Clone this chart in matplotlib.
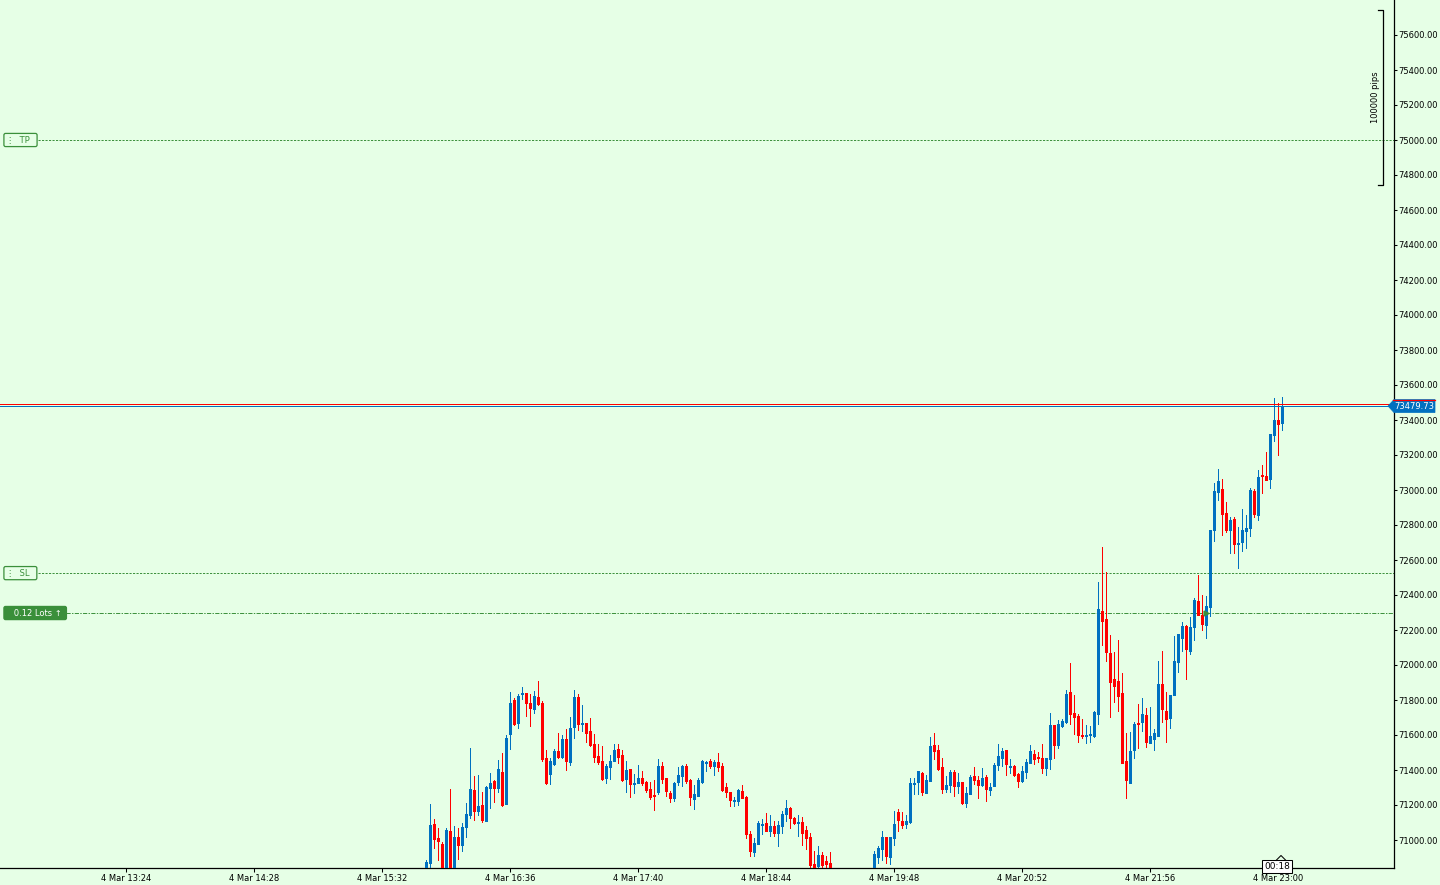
import matplotlib
matplotlib.use("Agg")
import matplotlib.pyplot as plt
import matplotlib.transforms as mtransforms
from matplotlib.patches import Polygon
import numpy as np

# 2-minute bars, 4 Mar, first bar opens at 15:54
first_bar = "15:54"
bar_minutes = 2

opens = [
    70820, 70870, 71091, 71011, 70980, 70790, 71051, 70810, 71017, 70971,
    71074, 71142, 71285, 71165, 71199, 71108, 71297, 71337, 71297, 71388,
    71205, 71605, 71800, 71668, 71834, 71840, 71782, 71748, 71817, 71782,
    71468, 71377, 71434, 71508, 71474, 71577, 71445, 71645, 71817, 71662,
    71668, 71622, 71548, 71480, 71451, 71354, 71417, 71451, 71520, 71486,
    71349, 71406, 71322, 71326, 71354, 71331, 71291, 71257, 71274, 71423,
    71354, 71269, 71240, 71331, 71366, 71423, 71343, 71234, 71251, 71331,
    71442, 71451, 71423, 71446, 71423, 71303, 71274, 71221, 71223, 71280,
    71246, 71034, 70931, 70977, 71086, 71097, 71051, 71080, 71040, 71080,
    71149, 71183, 71126, 71097, 71103, 71057, 71017, 70863, 70851, 70914,
    70880, 70868, 70820, 70760, 70780, 70710, 70660, 70700, 70740, 70670,
    70730, 70780, 70820, 70902, 70948, 71017, 70902, 71011, 71160, 71108,
    71091, 71102, 71321, 71331, 71383, 71268, 71337, 71543, 71514, 71417,
    71291, 71314, 71388, 71308, 71331, 71211, 71263, 71365, 71342, 71314,
    71360, 71285, 71308, 71428, 71468, 71514, 71419, 71423, 71377, 71337,
    71388, 71440, 71491, 71474, 71468, 71411, 71463, 71657, 71543, 71651,
    71674, 71845, 71725, 71708, 71600, 71596, 71602, 71594, 71722, 72308,
    72263, 72068, 71920, 71908, 71840, 71451, 71325, 71514, 71668, 71674,
    71714, 71554, 71577, 71594, 71891, 71737, 71697, 71828, 72017, 72154,
    72223, 72080, 72217, 72365, 72285, 72228, 72331, 72771, 72988, 73005,
    72868, 72771, 72834, 72693, 72702, 72765, 72782, 72994, 72857, 73085,
    73080, 73062, 73314, 73400, 73383,
]
highs = [
    70885, 71205, 71120, 71068, 70986, 71068, 71291, 71079, 71068, 71097,
    71211, 71525, 71365, 71371, 71274, 71308, 71382, 71343, 71457, 71497,
    71600, 71845, 71811, 71834, 71874, 71840, 71834, 71851, 71908, 71794,
    71514, 71468, 71520, 71611, 71600, 71634, 71702, 71857, 71834, 71771,
    71668, 71697, 71605, 71548, 71537, 71434, 71485, 71548, 71548, 71514,
    71451, 71406, 71377, 71429, 71394, 71337, 71331, 71343, 71463, 71446,
    71354, 71280, 71331, 71417, 71429, 71434, 71349, 71314, 71354, 71457,
    71451, 71463, 71457, 71497, 71440, 71326, 71274, 71246, 71291, 71314,
    71251, 71051, 71011, 71108, 71120, 71154, 71143, 71108, 71108, 71166,
    71229, 71188, 71131, 71143, 71131, 71080, 71040, 70937, 70966, 70931,
    70908, 70931, 70830, 70800, 70810, 70740, 70720, 70760, 70780, 70750,
    70800, 70830, 70937, 70965, 71051, 71017, 71017, 71165, 71177, 71160,
    71142, 71354, 71354, 71394, 71388, 71371, 71588, 71611, 71543, 71468,
    71365, 71400, 71400, 71383, 71331, 71303, 71371, 71417, 71365, 71411,
    71371, 71325, 71440, 71548, 71525, 71514, 71463, 71428, 71383, 71423,
    71463, 71543, 71514, 71503, 71548, 71468, 71725, 71657, 71685, 71691,
    71857, 72010, 71828, 71720, 71691, 71657, 71651, 71737, 72474, 72674,
    72531, 72171, 72074, 72143, 71954, 71611, 71617, 71674, 71777, 71811,
    71754, 71760, 71634, 72023, 72080, 71845, 71828, 72165, 72177, 72245,
    72228, 72274, 72383, 72514, 72400, 72394, 72771, 73040, 73120, 73062,
    72931, 72845, 72845, 72788, 72891, 72857, 73011, 73005, 73114, 73142,
    73217, 73320, 73525, 73497, 73531,
]
lows = [
    70800, 70830, 70956, 70885, 70780, 70770, 70780, 70790, 70891, 70937,
    71017, 71125, 71114, 71142, 71102, 71108, 71182, 71217, 71274, 71194,
    71205, 71520, 71657, 71640, 71805, 71708, 71651, 71725, 71771, 71451,
    71320, 71320, 71428, 71468, 71468, 71400, 71428, 71582, 71628, 71622,
    71560, 71537, 71445, 71434, 71343, 71325, 71348, 71451, 71440, 71337,
    71274, 71246, 71269, 71326, 71314, 71274, 71234, 71171, 71263, 71326,
    71251, 71217, 71223, 71314, 71309, 71326, 71200, 71177, 71251, 71326,
    71394, 71411, 71371, 71394, 71280, 71246, 71194, 71194, 71200, 71240,
    71011, 70908, 70908, 70977, 71034, 71051, 71023, 71023, 70966, 71040,
    71108, 71069, 71091, 71023, 70971, 70949, 70840, 70835, 70835, 70830,
    70835, 70800, 70740, 70700, 70690, 70640, 70630, 70680, 70650, 70660,
    70710, 70760, 70790, 70868, 70885, 70868, 70862, 70971, 71051, 71068,
    71068, 71097, 71263, 71263, 71257, 71268, 71337, 71463, 71400, 71268,
    71274, 71274, 71251, 71268, 71205, 71188, 71263, 71320, 71240, 71308,
    71223, 71257, 71308, 71400, 71423, 71371, 71383, 71365, 71303, 71331,
    71354, 71440, 71434, 71445, 71383, 71371, 71405, 71468, 71525, 71645,
    71668, 71663, 71605, 71560, 71583, 71554, 71560, 71588, 71662, 72114,
    72023, 71702, 71788, 71737, 71440, 71240, 71325, 71468, 71525, 71623,
    71531, 71554, 71514, 71594, 71674, 71560, 71640, 71828, 71960, 72080,
    71920, 72063, 72143, 72285, 72200, 72154, 72280, 72708, 72942, 72742,
    72760, 72640, 72640, 72554, 72651, 72668, 72737, 72845, 72828, 72982,
    73057, 73011, 73280, 73200, 73342,
]
closes = [
    70874, 71085, 71007, 70994, 70800, 71057, 70800, 71017, 70971, 71074,
    71148, 71291, 71165, 71194, 71114, 71302, 71325, 71297, 71405, 71199,
    71582, 71782, 71662, 71822, 71840, 71782, 71754, 71822, 71777, 71462,
    71325, 71451, 71508, 71474, 71577, 71451, 71640, 71817, 71662, 71668,
    71609, 71542, 71474, 71445, 71348, 71422, 71451, 71514, 71474, 71343,
    71400, 71322, 71326, 71354, 71326, 71286, 71246, 71253, 71423, 71349,
    71280, 71240, 71326, 71371, 71423, 71337, 71246, 71263, 71343, 71451,
    71448, 71423, 71446, 71417, 71286, 71274, 71229, 71225, 71286, 71240,
    71034, 70937, 70983, 71097, 71091, 71051, 71080, 71040, 71086, 71149,
    71183, 71126, 71097, 71103, 71040, 71011, 70857, 70848, 70914, 70857,
    70863, 70820, 70760, 70780, 70710, 70660, 70700, 70740, 70670, 70730,
    70780, 70810, 70920, 70954, 71017, 70908, 71017, 71091, 71114, 71085,
    71108, 71325, 71325, 71394, 71274, 71342, 71537, 71508, 71405, 71291,
    71314, 71388, 71308, 71331, 71211, 71268, 71360, 71342, 71314, 71354,
    71291, 71303, 71428, 71480, 71508, 71434, 71423, 71371, 71337, 71394,
    71445, 71508, 71463, 71470, 71411, 71468, 71657, 71543, 71663, 71680,
    71834, 71720, 71703, 71600, 71596, 71600, 71606, 71731, 72320, 72251,
    72074, 71903, 71880, 71823, 71440, 71342, 71508, 71662, 71664, 71720,
    71560, 71594, 71611, 71891, 71748, 71691, 71828, 72023, 72177, 72223,
    72091, 72217, 72371, 72285, 72234, 72337, 72771, 72994, 73051, 72862,
    72771, 72828, 72691, 72697, 72771, 72782, 73000, 72862, 73074, 73080,
    73057, 73320, 73400, 73377, 73479.73,
]

price_ticks = list(range(71000, 75601, 200))
time_ticks = ["13:24", "14:28", "15:32", "16:36", "17:40",
              "18:44", "19:48", "20:52", "21:56", "23:00"]
date_label = "4 Mar"

# trade levels
tp_price = 75000.0
sl_price = 72525.0
entry_price = 72297.0
entry_bar = 196
lots = 0.12
bid_price = 73479.73
ask_price = 73492.0
timer_text = "00:18"
range_text = "100000 pips"
range_top = 75743.0
range_bottom = 74743.0

# colours
bg = "#E6FFE6"
bull = "#0070C0"
bear = "#FF0000"
trade_green = "#3A8F3A"


def to_minutes(hhmm):
    h, m = hhmm.split(":")
    return int(h) * 60 + int(m)


o = np.array(opens, dtype=float)
h = np.array(highs, dtype=float)
l = np.array(lows, dtype=float)
c = np.array(closes, dtype=float)
x = to_minutes(first_bar) + bar_minutes * np.arange(len(o))

W, H = 1440, 885
fig = plt.figure(figsize=(W / 100, H / 100), dpi=100)
fig.patch.set_facecolor(bg)
ax = fig.add_axes([0, 17 / H, 1394 / W, 868 / H])
ax.set_facecolor(bg)
ax.set_xlim(741, 1438)
ax.set_ylim(70840, 75800)

# Candles: 1px wicks, 3px bodies (doji get at least one pixel)
colors = np.where(c >= o, bull, bear)
body_lo = np.minimum(o, c)
body_hi = np.maximum(np.maximum(o, c), body_lo + 5.0)
ax.vlines(x, l, h, colors=colors, linewidth=0.72, antialiased=False, zorder=3)
ax.vlines(x, body_lo, body_hi, colors=colors, linewidth=2.16, capstyle="butt",
          antialiased=False, zorder=4)

# Bid / ask lines
ax.axhline(ask_price, color=bear, lw=0.7, antialiased=False, zorder=5)
ax.axhline(bid_price, color=bull, lw=0.7, antialiased=False, zorder=5)

# Trade levels
ax.axhline(tp_price, xmin=38 / 1394, color=trade_green, lw=0.7,
           ls=(0, (2.2, 1.4)), zorder=2)
ax.axhline(sl_price, xmin=38 / 1394, color=trade_green, lw=0.7,
           ls=(0, (2.2, 1.4)), zorder=2)
ax.axhline(entry_price, xmin=66 / 1394, color=trade_green, lw=0.7,
           ls=(0, (4.3, 1.4, 1.4, 1.4)), zorder=2)
ax.plot(x[entry_bar - 1], entry_price, marker=">", ms=3.5, color=trade_green,
        mec=trade_green, zorder=6)

lbl = mtransforms.blended_transform_factory(ax.transAxes, ax.transData)
for name, lvl in (("TP", tp_price), ("SL", sl_price)):
    ax.text(6 / 1394, lvl, "\u22ee  " + name + "  ", transform=lbl, fontsize=6,
            color=trade_green, ha="left", va="center", zorder=7,
            bbox=dict(boxstyle="round,pad=0.25,rounding_size=0.2", fc=bg,
                      ec=trade_green, lw=0.9))
ax.text(6 / 1394, entry_price, "   {:.2f} Lots \u2191 ".format(lots), transform=lbl,
        fontsize=6, color="white", ha="left", va="center", zorder=7,
        bbox=dict(boxstyle="round,pad=0.25,rounding_size=0.2", fc=trade_green,
                  ec=trade_green, lw=0.9))

# Axes styling
for side in ("top", "left"):
    ax.spines[side].set_visible(False)
for side in ("right", "bottom"):
    ax.spines[side].set_color("black")
    ax.spines[side].set_linewidth(0.9)
ax.yaxis.tick_right()
ax.set_yticks(price_ticks)
ax.set_yticklabels(["{:.2f}".format(p) for p in price_ticks])
ax.set_xticks([to_minutes(t) for t in time_ticks])
ax.set_xticklabels([date_label + " " + t for t in time_ticks])
ax.tick_params(axis="both", labelsize=6, length=3, width=0.75, pad=1.5,
               colors="black")
ax.tick_params(axis="y", length=2.5, pad=0.8)

# Bid price tag at the right edge
tag = mtransforms.blended_transform_factory(fig.transFigure, ax.transData)
half = 6.5 * (75800 - 70840) / 868
tag_poly = Polygon([(1388 / W, bid_price), (1394 / W, bid_price + half),
                    (1435 / W, bid_price + half), (1435 / W, bid_price - half),
                    (1394 / W, bid_price - half)], closed=True, fc=bull, ec=bull,
                   lw=0.5, transform=tag, clip_on=False, zorder=8)
ax.add_patch(tag_poly)
ax.plot([1393 / W, 1435 / W], [bid_price + half, bid_price + half], color=bear,
        lw=0.9, transform=tag, clip_on=False, zorder=9)
ax.text(1414 / W, bid_price, "{:.2f}".format(bid_price), transform=tag, fontsize=6,
        color="white", ha="center", va="center", zorder=9)

# Range bracket at top right
ax.plot([1378 / W, 1383 / W, 1383 / W, 1378 / W],
        [range_top, range_top, range_bottom, range_bottom], color="black",
        lw=0.9, transform=tag, clip_on=False, zorder=6)
ax.text(1376 / W, (range_top + range_bottom) / 2, range_text, transform=tag,
        fontsize=6, rotation=90, ha="center", va="center", color="black")

# Countdown box on the time axis
fig.text(1277 / W, 1 - 866.5 / H, timer_text, fontsize=6.5, ha="center",
         va="center", color="black", zorder=10,
         bbox=dict(boxstyle="square,pad=0.2", fc="white", ec="black", lw=0.75))
fig.lines.append(plt.Line2D([1276 / W, 1281 / W, 1286 / W],
                            [1 - 860.5 / H, 1 - 855.5 / H, 1 - 860.5 / H],
                            transform=fig.transFigure, color="black", lw=0.75,
                            zorder=11))

fig.savefig("out.png", dpi=100, facecolor=bg)
